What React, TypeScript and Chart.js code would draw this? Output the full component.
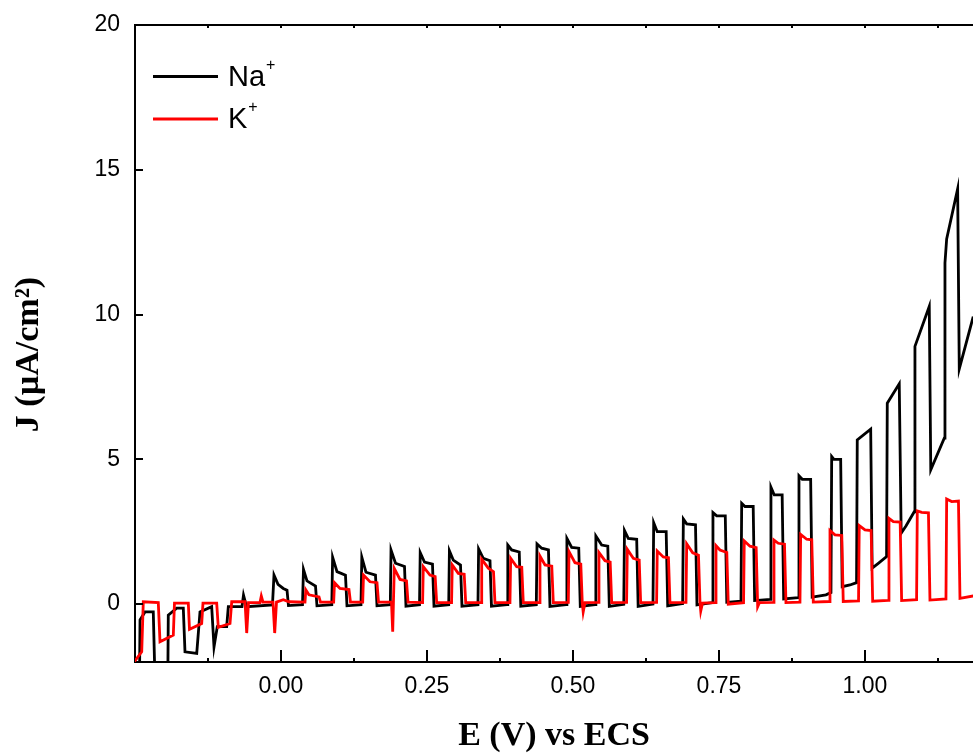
import React, { useEffect, useRef } from "react";
import { Chart, registerables } from "chart.js";

Chart.register(...registerables);

// ---- Data (E in V vs ECS, J in µA/cm²) ----
// Na+ (black)
const naE = [
  -0.2620, -0.2423, -0.2414, -0.2329, -0.2187, -0.2158, -0.1938, -0.1930, -0.1786, -0.1673, -0.1644,
  -0.1443, -0.1387, -0.1187, -0.1147, -0.1091, -0.0930, -0.0902, -0.0668, -0.0642, -0.0591, -0.0146,
  -0.0120, -0.0051, 0.0039, 0.0103, 0.0128, 0.0368,
  0.0385, 0.0445, 0.0591, 0.0616, 0.0870,
  0.0884, 0.0959, 0.1104, 0.1130, 0.1370,
  0.1384, 0.1455, 0.1618, 0.1644, 0.1872,
  0.1884, 0.1961, 0.2115, 0.2140, 0.2372,
  0.2384, 0.2457, 0.2594, 0.2620, 0.2872,
  0.2884, 0.2950, 0.3074, 0.3099, 0.3373,
  0.3384, 0.3464, 0.3579, 0.3604, 0.3872,
  0.3884, 0.3950, 0.4080, 0.4106, 0.4372,
  0.4384, 0.4464, 0.4580, 0.4606, 0.4884,
  0.4896, 0.4978, 0.5099, 0.5125, 0.5380,
  0.5392, 0.5491, 0.5596, 0.5622, 0.5870,
  0.5882, 0.5947, 0.6091, 0.6116, 0.6370,
  0.6382, 0.6443, 0.6596, 0.6622, 0.6878,
  0.6890, 0.6947, 0.7098, 0.7123, 0.7385,
  0.7397, 0.7461, 0.7608, 0.7634, 0.7877,
  0.7889, 0.7945, 0.8086, 0.8111, 0.8378,
  0.8390, 0.8447, 0.8582, 0.8608, 0.8858,
  0.8870, 0.8926, 0.9070, 0.9096, 0.9332, 0.9418,
  0.9430, 0.9469, 0.9584, 0.9610, 0.9743, 0.9856,
  0.9868, 1.0098, 1.0123, 1.0223, 1.0370,
  1.0382, 1.0587, 1.0620, 1.0702, 1.0844,
  1.0856, 1.1101, 1.1127, 1.1358,
  1.1370, 1.1399, 1.1587, 1.1615, 1.1854, 1.1860, 1.1866,
];
const naJ = [
  -2.6, -2.6, -0.55, -0.27, -0.27, -2.6, -2.6, -0.38, -0.14, -0.14, -1.65,
  -1.7, -0.27, -0.09, -1.48, -0.78, -0.78, -0.09, -0.09, 0.31, -0.09, -0.03,
  1.0, 0.68, 0.54, 0.48, -0.05, -0.02,
  1.2, 0.8, 0.62, -0.06, -0.02,
  1.62, 1.12, 1.0, -0.06, -0.02,
  1.62, 1.1, 1.0, -0.06, -0.02,
  1.87, 1.41, 1.3, -0.07, -0.02,
  1.78, 1.45, 1.38, -0.07, -0.02,
  1.84, 1.52, 1.35, -0.07, -0.02,
  1.91, 1.58, 1.5, -0.07, -0.02,
  2.04, 1.87, 1.8, -0.07, -0.02,
  2.08, 1.93, 1.87, -0.08, -0.02,
  2.27, 1.96, 1.93, -0.08, -0.02,
  2.35, 2.04, 2.0, -0.08, -0.01,
  2.54, 2.27, 2.24, -0.08, 0.0,
  2.81, 2.5, 2.5, -0.06, 0.02,
  2.94, 2.77, 2.74, -0.03, 0.05,
  3.16, 3.05, 3.05, 0.06, 0.1,
  3.48, 3.37, 3.37, 0.12, 0.16,
  4.04, 3.77, 3.77, 0.18, 0.22,
  4.43, 4.31, 4.31, 0.24, 0.32, 0.4,
  5.1, 5.0, 5.0, 0.6, 0.66, 0.74,
  5.67, 6.04, 1.24, 1.4, 1.64,
  6.94, 7.61, 2.45, 2.7, 3.19,
  8.9, 10.28, 4.64, 5.73,
  11.78, 12.61, 14.34, 8.12, 9.93, 10.0, 16.5,
];

// K+ (red)
const kE = [
  -0.2534, -0.2385, -0.2358, -0.2101, -0.2072, -0.1844, -0.1824, -0.1587, -0.1567, -0.1358, -0.1336,
  -0.1101, -0.1074, -0.0873, -0.0844, -0.0616, -0.0587, -0.0557, -0.0360, -0.0337, -0.0308, -0.0137,
  -0.0108, -0.0077, 0.0039, 0.0137, 0.0411,
  0.0425, 0.0479, 0.0651, 0.0676, 0.0902,
  0.0916, 0.1010, 0.1164, 0.1190, 0.1399,
  0.1413, 0.1524, 0.1644, 0.1670, 0.1892,
  0.1913, 0.1940, 0.2038, 0.2149, 0.2175, 0.2425,
  0.2437, 0.2551, 0.2640, 0.2666, 0.2921,
  0.2933, 0.3036, 0.3137, 0.3163, 0.3425,
  0.3437, 0.3550, 0.3639, 0.3664, 0.3921,
  0.3933, 0.4036, 0.4123, 0.4149, 0.4423,
  0.4435, 0.4521, 0.4637, 0.4663, 0.4920,
  0.4932, 0.5034, 0.5134, 0.5159, 0.5175, 0.5205, 0.5433,
  0.5445, 0.5548, 0.5637, 0.5663, 0.5918,
  0.5930, 0.6033, 0.6134, 0.6159, 0.6432,
  0.6443, 0.6546, 0.6635, 0.6661, 0.6935,
  0.6947, 0.7050, 0.7149, 0.7175, 0.7188, 0.7217, 0.7437,
  0.7449, 0.7517, 0.7634, 0.7659, 0.7921,
  0.7933, 0.8031, 0.8137, 0.8163, 0.8193, 0.8430,
  0.8442, 0.8515, 0.8622, 0.8647, 0.8887,
  0.8899, 0.9002, 0.9089, 0.9115, 0.9389,
  0.9401, 0.9486, 0.9603, 0.9628, 0.9890,
  0.9902, 1.0000, 1.0106, 1.0132, 1.0399,
  1.0411, 1.0485, 1.0603, 1.0628, 1.0884,
  1.0896, 1.0971, 1.1087, 1.1113, 1.1387,
  1.1399, 1.1485, 1.1601, 1.1627, 1.1854, 1.1901, 1.1909,
];
const kJ = [
  -2.05, -1.65, 0.08, 0.05, -1.3, -1.07, 0.03, 0.03, -0.87, -0.67, 0.03,
  0.03, -0.8, -0.67, 0.08, 0.08, -1.0, 0.05, 0.05, 0.28, 0.07, 0.07,
  -1.0, 0.07, 0.15, 0.08, 0.07,
  0.49, 0.32, 0.25, 0.07, 0.07,
  0.74, 0.54, 0.5, 0.07, 0.07,
  1.0, 0.77, 0.74, 0.07, 0.07,
  -0.95, 1.23, 0.85, 0.8, 0.07, 0.05,
  1.29, 1.0, 0.95, 0.05, 0.05,
  1.35, 1.06, 1.03, 0.05, 0.05,
  1.55, 1.24, 1.12, 0.05, 0.05,
  1.58, 1.29, 1.27, 0.05, 0.05,
  1.66, 1.35, 1.31, 0.05, 0.06,
  1.81, 1.43, 1.38, 0.05, -0.27, 0.05, 0.06,
  1.78, 1.5, 1.45, 0.05, 0.06,
  1.89, 1.58, 1.52, 0.05, 0.06,
  1.83, 1.63, 1.6, 0.05, 0.06,
  2.08, 1.77, 1.69, 0.05, -0.24, 0.03, 0.05,
  2.02, 1.87, 1.78, 0.0, 0.05,
  2.18, 2.0, 1.95, -0.09, 0.05, 0.06,
  2.21, 2.1, 2.07, 0.05, 0.07,
  2.41, 2.24, 2.22, 0.07, 0.09,
  2.54, 2.39, 2.37, 0.09, 0.11,
  2.71, 2.56, 2.54, 0.1, 0.13,
  2.96, 2.85, 2.83, 0.12, 0.15,
  3.22, 3.17, 3.15, 0.14, 0.18,
  3.63, 3.54, 3.56, 0.2, 0.28, 0.3, 3.9,
];

// ---- Axes ----
const xMin = -0.25;
const xMax = 1.185;
const yMin = -2;
const yMax = 20;
const xTicks = [-0.125, 0, 0.125, 0.25, 0.375, 0.5, 0.625, 0.75, 0.875, 1.0, 1.125];
const xLabelTicks = [0, 0.25, 0.5, 0.75, 1.0];
const yTicks = [0, 5, 10, 15, 20];
const seriesLabels = ["Na⁺", "K⁺"];
const legendBase = ["Na", "K"];
const legendSup = ["+", "+"];
const xTitle = "E (V) vs ECS";
const yTitle = "J (µA/cm²)";

const SANS = '"Liberation Sans", Arial, sans-serif';
const SERIF = '"Liberation Serif", "Times New Roman", serif';

const toPoints = (xs: number[], ys: number[]) =>
  xs.slice(0, Math.min(xs.length, ys.length)).map((x, i) => ({ x, y: ys[i] }));

const isMajor = (v: number) => xLabelTicks.some((m) => Math.abs(m - v) < 1e-9);

const framePlugin = {
  id: "frame",
  afterDatasetsDraw(chart: any) {
    const { ctx, chartArea: a, scales } = chart;
    const xs = scales.x;
    const ys = scales.y;
    ctx.save();
    ctx.strokeStyle = "#000";
    ctx.lineWidth = 2;
    ctx.beginPath();
    ctx.moveTo(a.left - 1, a.top);
    ctx.lineTo(a.right + 2, a.top);
    for (const v of xTicks) {
      const px = Math.round(xs.getPixelForValue(v));
      ctx.moveTo(px, a.bottom);
      ctx.lineTo(px, a.bottom - (isMajor(v) ? 12 : 4));
      ctx.moveTo(px, a.top);
      ctx.lineTo(px, a.top + 3);
    }
    for (const v of yTicks) {
      const py = Math.round(ys.getPixelForValue(v));
      ctx.moveTo(a.left, py);
      ctx.lineTo(a.left + 8, py);
    }
    ctx.stroke();

    // legend inside plot, top-left
    chart.data.datasets.forEach((ds: any, i: number) => {
      const y = a.top + 51.5 + i * 42.5;
      ctx.strokeStyle = ds.borderColor;
      ctx.lineWidth = 3;
      ctx.beginPath();
      ctx.moveTo(a.left + 18, y);
      ctx.lineTo(a.left + 83, y);
      ctx.stroke();
      ctx.fillStyle = "#000";
      ctx.textAlign = "left";
      ctx.textBaseline = "middle";
      ctx.font = `29px ${SANS}`;
      const tx = a.left + 93;
      ctx.fillText(legendBase[i], tx, y + 1);
      const w = ctx.measureText(legendBase[i]).width;
      ctx.font = `16px ${SANS}`;
      ctx.fillText(legendSup[i], tx + w + 1, y - 11);
    });

    // y-axis title (rotated), centred slightly below the plot middle as in the reference
    ctx.save();
    ctx.translate(29, (a.top + a.bottom) / 2 + 11);
    ctx.rotate(-Math.PI / 2);
    ctx.fillStyle = "#000";
    ctx.textAlign = "center";
    ctx.textBaseline = "middle";
    ctx.font = `bold 34px ${SERIF}`;
    ctx.fillText(yTitle, 0, 0);
    ctx.restore();

    ctx.restore();
  },
};

export default function App() {
  const ref = useRef<HTMLCanvasElement | null>(null);

  useEffect(() => {
    if (!ref.current) return;
    const chart = new Chart(ref.current, {
      type: "line",
      data: {
        datasets: [
          {
            label: seriesLabels[0],
            data: toPoints(naE, naJ),
            borderColor: "#000000",
            backgroundColor: "#000000",
            borderWidth: 2.8,
            pointRadius: 0,
            tension: 0,
            fill: false,
            order: 1,
          },
          {
            label: seriesLabels[1],
            data: toPoints(kE, kJ),
            borderColor: "#ff0000",
            backgroundColor: "#ff0000",
            borderWidth: 2.8,
            pointRadius: 0,
            tension: 0,
            fill: false,
            order: 0,
          },
        ],
      },
      options: {
        responsive: false,
        animation: false,
        devicePixelRatio: 1,
        layout: { padding: { top: 25, right: 0, bottom: 0, left: 0 } },
        plugins: {
          legend: { display: false },
          tooltip: { enabled: false },
          title: { display: false },
        },
        scales: {
          x: {
            type: "linear",
            min: xMin,
            max: xMax,
            grid: { display: false, drawTicks: false },
            border: { display: true, color: "#000", width: 2 },
            afterBuildTicks: (s: any) => {
              s.ticks = xTicks.map((v) => ({ value: v }));
            },
            afterFit: (s: any) => {
              s.height = 91;
            },
            ticks: {
              autoSkip: false,
              maxRotation: 0,
              minRotation: 0,
              includeBounds: false,
              padding: 11,
              color: "#000",
              font: { family: SANS, size: 23 },
              callback: (v: any) => (isMajor(Number(v)) ? Number(v).toFixed(2) : ""),
            },
            title: {
              display: true,
              text: xTitle,
              color: "#000",
              font: { family: SERIF, size: 34, weight: "bold", lineHeight: 1 },
              padding: { top: 0, bottom: 0 },
            },
          },
          y: {
            type: "linear",
            min: yMin,
            max: yMax,
            grid: { display: false, drawTicks: false },
            border: { display: true, color: "#000", width: 2 },
            afterBuildTicks: (s: any) => {
              s.ticks = yTicks.map((v) => ({ value: v }));
            },
            afterFit: (s: any) => {
              s.width = 135;
            },
            ticks: {
              autoSkip: false,
              padding: 15,
              color: "#000",
              font: { family: SANS, size: 23, lineHeight: 0.6 },
              callback: (v: any) => String(v),
            },
            title: { display: false, text: yTitle },
          },
        },
      } as any,
      plugins: [framePlugin],
    });
    return () => chart.destroy();
  }, []);

  return (
    <div
      style={{
        position: "fixed",
        left: 0,
        top: 0,
        width: 973,
        height: 753,
        background: "#ffffff",
        overflow: "hidden",
      }}
    >
      <canvas ref={ref} width={973} height={753} style={{ display: "block" }} />
    </div>
  );
}
